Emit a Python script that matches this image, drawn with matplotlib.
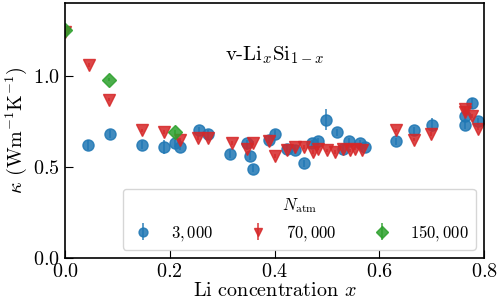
import matplotlib
matplotlib.use("Agg")
from matplotlib import pyplot as plt

plt.rcParams["font.family"] = "serif"
plt.rcParams["font.serif"] = ["cmr10", "DejaVu Serif"]
plt.rcParams["mathtext.fontset"] = "cm"
plt.rcParams["axes.unicode_minus"] = False
plt.rcParams["axes.formatter.use_mathtext"] = True

# N_atm = 3,000
x_3k = [0.044, 0.086, 0.147, 0.189, 0.21, 0.219, 0.256, 0.273, 0.315, 0.347,
        0.353, 0.359, 0.389, 0.40, 0.424, 0.439, 0.456, 0.471, 0.483, 0.498,
        0.519, 0.53, 0.542, 0.563, 0.573, 0.632, 0.666, 0.70, 0.763, 0.763,
        0.777, 0.788]
k_3k = [0.62, 0.68, 0.62, 0.61, 0.63, 0.61, 0.70, 0.68, 0.57, 0.63,
        0.56, 0.49, 0.65, 0.68, 0.60, 0.59, 0.52, 0.63, 0.64, 0.76,
        0.69, 0.60, 0.64, 0.63, 0.61, 0.64, 0.70, 0.73, 0.78, 0.73,
        0.85, 0.75]
e_3k = [0.03, 0.02, 0.02, 0.04, 0.02, 0.02, 0.02, 0.02, 0.02, 0.02,
        0.02, 0.02, 0.02, 0.02, 0.02, 0.02, 0.02, 0.02, 0.02, 0.06,
        0.02, 0.02, 0.02, 0.02, 0.02, 0.02, 0.02, 0.04, 0.02, 0.02,
        0.03, 0.02]

# N_atm = 70,000
x_70k = [0.0, 0.046, 0.084, 0.147, 0.189, 0.219, 0.254, 0.273, 0.319, 0.347,
         0.359, 0.389, 0.40, 0.424, 0.439, 0.456, 0.473, 0.483, 0.50, 0.515,
         0.531, 0.544, 0.553, 0.567, 0.632, 0.666, 0.698, 0.763, 0.763, 0.777,
         0.788]
k_70k = [1.24, 1.06, 0.87, 0.70, 0.69, 0.65, 0.66, 0.66, 0.63, 0.60,
         0.63, 0.64, 0.56, 0.59, 0.61, 0.61, 0.58, 0.60, 0.59, 0.58,
         0.60, 0.59, 0.60, 0.59, 0.70, 0.65, 0.68, 0.82, 0.80, 0.78,
         0.71]
e_70k = [0.01] * len(x_70k)

# N_atm = 150,000
x_150k = [0.0, 0.084, 0.21]
k_150k = [1.25, 0.98, 0.69]
e_150k = [0.01, 0.01, 0.01]

fig = plt.figure(figsize=(4.98, 3.07), dpi=100)
ax = fig.add_axes([0.1305, 0.160, 0.8415, 0.830])

ax.errorbar(x_3k, k_3k, yerr=e_3k, fmt="o", color="tab:blue", ms=8, alpha=0.85,
            elinewidth=1.2, capsize=0, label="$3,000$")
ax.errorbar(x_70k, k_70k, yerr=e_70k, fmt="v", color="tab:red", ms=8, alpha=0.85,
            elinewidth=1.2, capsize=0, label="$70,000$")
ax.errorbar(x_150k, k_150k, yerr=e_150k, fmt="D", color="tab:green", ms=7.5, alpha=0.85,
            elinewidth=1.2, capsize=0, label="$150,000$")

ax.set_xlim(0, 0.8)
ax.set_ylim(0, 1.4)
ax.set_xticks([0.0, 0.2, 0.4, 0.6, 0.8])
ax.set_yticks([0.0, 0.5, 1.0])
ax.tick_params(direction="in", length=6, labelsize=14.5, top=False, right=False)
for s in ax.spines.values():
    s.set_linewidth(1.2)

ax.set_xlabel("Li concentration $x$", fontsize=14.5, labelpad=1)
ax.set_ylabel(r"$\kappa$ (Wm$^{-1}$K$^{-1}$)", fontsize=14.5, labelpad=3)
ax.text(0.50, 0.795, r"v-Li$_x$Si$_{1-x}$", transform=ax.transAxes,
        ha="center", va="center", fontsize=15)

ax.legend(loc="lower right", ncol=3, title=r"$N_\mathrm{atm}$", fontsize=12,
          title_fontsize=12, columnspacing=1.9, handletextpad=0.9,
          handlelength=1.6, markerscale=0.8)

fig.savefig("out.png", dpi=100)
